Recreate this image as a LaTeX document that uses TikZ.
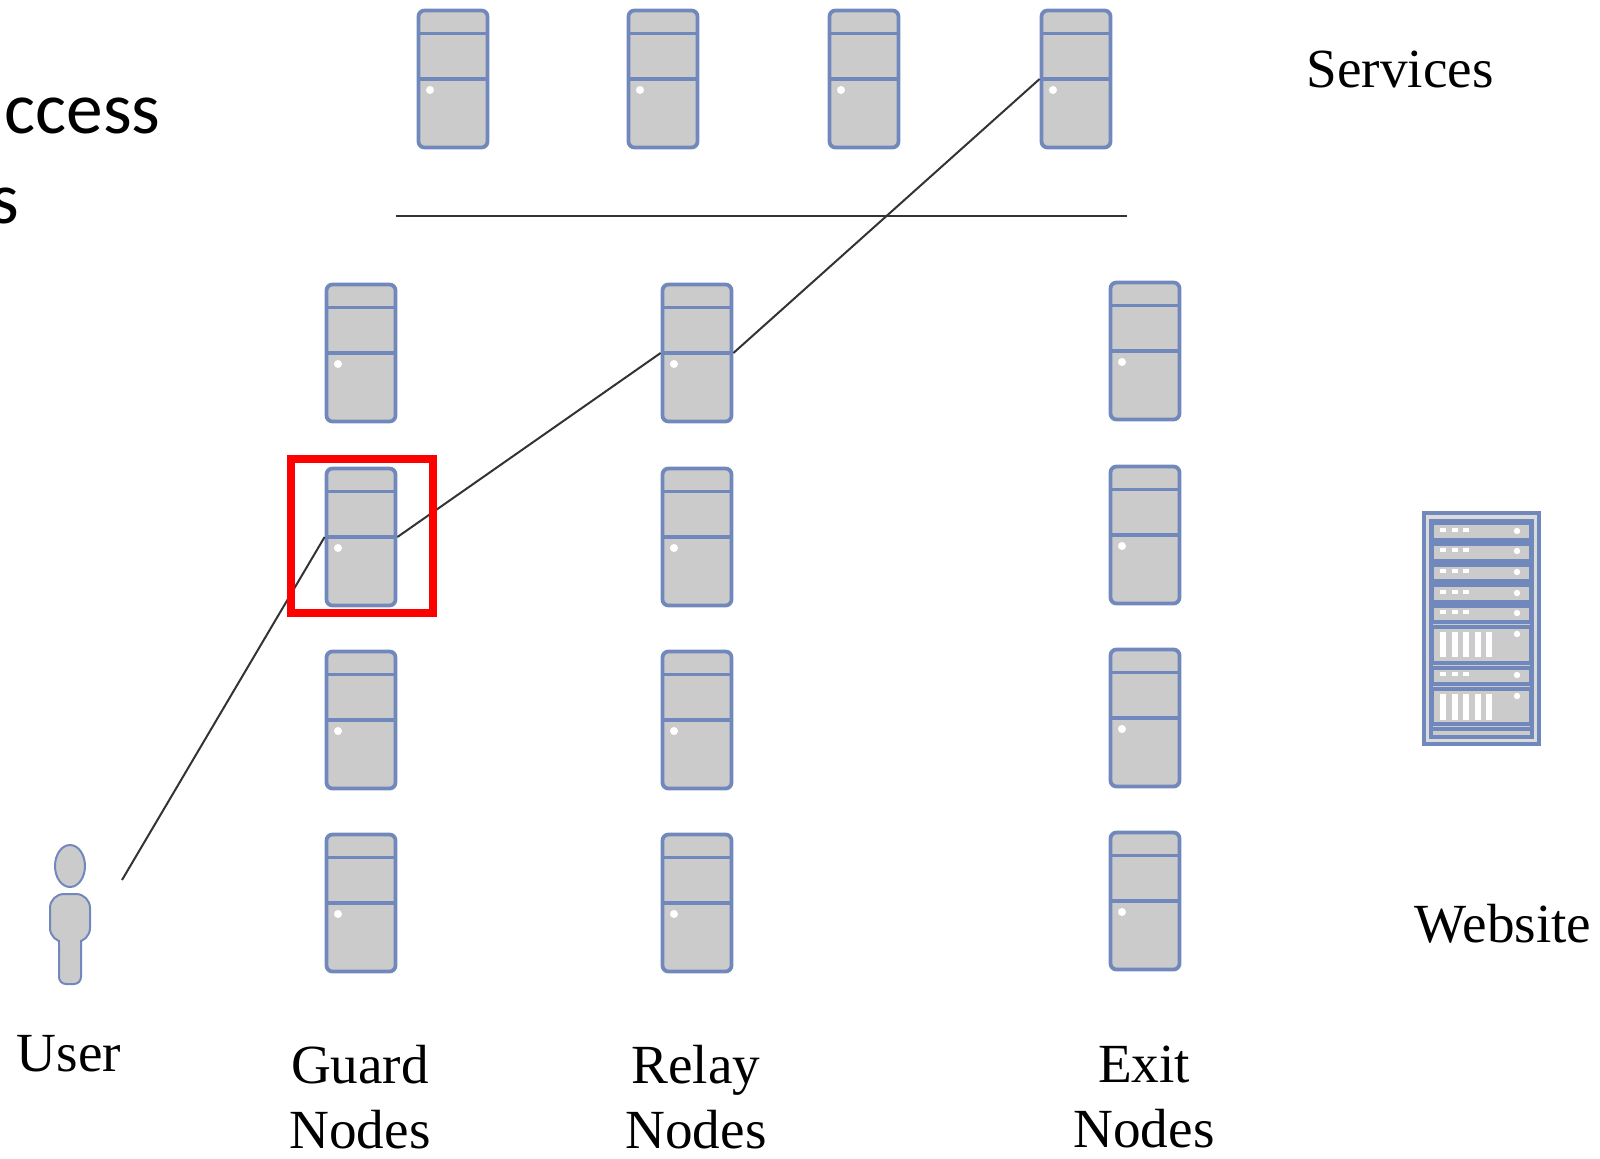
\documentclass[tikz,border=0pt]{standalone}
\usepackage{fontspec}
\usetikzlibrary{shapes.geometric}
\setmainfont{Liberation Serif}
\newfontfamily\slidefont{Carlito}
\definecolor{srvblue}{HTML}{7188BC}
\definecolor{srvgray}{HTML}{CBCBCB}
\tikzset{
  server/.style={draw=srvblue,fill=srvgray,line width=1.9pt,rounded corners=3pt,
    minimum width=34.5pt,minimum height=68.5pt,inner sep=0pt,
    path picture={
        \draw[srvblue,line width=1.9pt] ([yshift=-11.5pt]path picture bounding box.north west)--([yshift=-11.5pt]path picture bounding box.north east);
        \draw[srvblue,line width=1.9pt] (path picture bounding box.west)--(path picture bounding box.east);
        \fill[white] ([xshift=-11.5pt,yshift=-5.5pt]path picture bounding box.center) circle (2pt);
      }},
  link/.style={line width=1pt,black!80},
  label/.style={font=\fontsize{27.6}{32.6}\selectfont,align=center,inner sep=0pt},
  slot/.style={draw=srvblue,fill=srvgray,line width=1.9pt},
  person/.style={draw=srvblue,fill=srvgray,line width=1pt},
}
\begin{document}
\begin{tikzpicture}[x=0.5pt,y=-0.5pt]
    \useasboundingbox (0,0) rectangle (1600,1158);
    % servers
    \foreach \x/\n in {453/1,663/2,864/3,1076/4}{
        \node[server] (svc\n) at (\x,79) {};
      }
    \foreach \y/\n in {353/1,537/2,720/3,903/4}{
        \node[server] (guard\n) at (361,\y) {};
        \node[server] (relay\n) at (697,\y) {};
        \node[server] (exit\n) at (1145,\y-2) {};
      }
    % divider
    \coordinate (divl) at (396,216);
    \coordinate (divr) at (1127,216);
    \draw[link] (divl)--(divr);
    % user
    \node[person,ellipse,minimum width=15pt,minimum height=21pt,inner sep=0pt] (head) at (70,866) {};
    \draw[person,rounded corners=3.5pt] (59,930) rectangle (81,984);
    \draw[person,rounded corners=7pt] (50,894) rectangle (90,942);
    \fill[srvgray] (60,936) rectangle (80,946);
    % path
    \coordinate (user) at (122,880);
    \draw[link] (user)--(guard2.west);
    \draw[link] (guard2.east)--(relay1.west);
    \draw[link] (relay1.east)--(svc4.west);
    \node[draw=red,line width=4pt,minimum width=71pt,minimum height=77pt,inner sep=0pt] (pick) at (362,536) {};
    % website rack
    \draw[slot,fill=srvgray!70] (1424,513) rectangle (1539,744);
    \draw[slot] (1431,521) rectangle (1532,737);
    \foreach \a/\b in {523/540,544/561,565/581,585/602,606/622,627/663,668/684,689/724}{
        \draw[slot] (1432,\a) rectangle (1531,\b);
      }
    \draw[srvblue,line width=1.9pt] (1432,729)--(1531,729);
    \foreach \y in {530,550,571,592,612,674}{
        \foreach \x in {1443,1455,1466}{
            \fill[white] (\x-3,\y-2) rectangle (\x+3,\y+2);
          }
        \fill[white] (1517,\y+1) circle (1.6pt);
      }
    \foreach \y/\t/\b in {627/632/657,689/694/720}{
        \foreach \x in {1443,1455,1466,1478,1489}{
            \fill[white] (\x-3,\t) rectangle (\x+3,\b);
          }
        \fill[white] (1517,\t+2) circle (1.6pt);
      }
    % labels
    \node[label] (services) at (1400,69) {Services};
    \node[label] (website) at (1503,924) {Website};
    \node[label] (userlab) at (69,1054) {User};
    \node[label] (guardlab) at (360,1097) {Guard\\Nodes};
    \node[label] (relaylab) at (696,1097) {Relay\\Nodes};
    \node[label] (exitlab) at (1144,1097) {Exit\\Nodes};
    \node[anchor=base west,inner sep=0pt,font=\slidefont\fontsize{36.7}{44}\selectfont] (slidea) at (4,133) {ccess};
    \node[anchor=base east,inner sep=0pt,font=\slidefont\fontsize{36.7}{44}\selectfont] (slideb) at (20,223) {s};
  \end{tikzpicture}
\end{document}
